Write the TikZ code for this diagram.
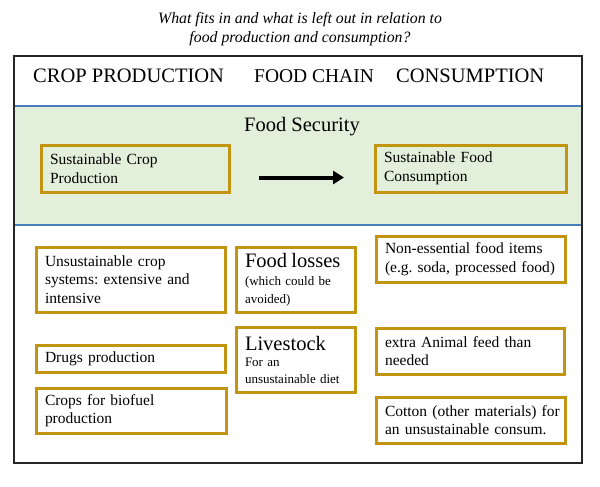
\documentclass[tikz,border=0pt]{standalone}
\usepackage{fontspec}
\setmainfont{Liberation Serif}
\usetikzlibrary{arrows.meta}
\definecolor{gold}{RGB}{194,148,16}
\definecolor{bandgreen}{RGB}{226,239,218}
\definecolor{lineblue}{RGB}{74,126,187}
\newcommand\oneline[1]{\mbox{#1}}
\begin{document}
\frenchspacing
\begin{tikzpicture}[x=1pt,y=-1pt,
  gbox/.style={draw=gold, line width=3pt, anchor=north west, align=left,
    inner xsep=9pt, inner ysep=0pt, font=\fontsize{15.5}{18.5}\selectfont},
  hdr/.style={font=\fontsize{20.5}{24}\selectfont, anchor=base west, inner sep=0pt},
  big/.style={font=\fontsize{20.5}{23}\selectfont}]
\useasboundingbox (0,0) rectangle (600,487);
\fill[white] (0,0) rectangle (600,487);
\node[font=\itshape\fontsize{15.8}{19}\selectfont, align=center] (title) at (300,29)
  {What fits in and what is left out in relation to\\food production and consumption?};
\fill[bandgreen] (14,106) rectangle (582,225);
\draw[lineblue, line width=1.3pt] (14,106) -- (582,106);
\draw[lineblue, line width=1.3pt] (14,225) -- (582,225);
\draw[line width=1.3pt, black!85] (14,56) rectangle (582,463);
\node[hdr] (h1) at (33,82) {CROP PRODUCTION};
\node[hdr, font=\fontsize{19.5}{24}\selectfont] (h2) at (254,82) {FOOD CHAIN};
\node[hdr] (h3) at (396,82) {CONSUMPTION};
\node[big] (fs) at (302,127) {Food Security};
\node[gbox, text width=170pt, minimum height=47pt] (sc) at (39.5,143.5) {Sustainable Crop\\Production};
\node[gbox, text width=173pt, minimum height=47pt] (sf) at (373.5,143.5) {Sustainable Food\\Consumption};
\draw[line width=4pt, -{Triangle[length=11pt,width=13pt]}, shorten <=28.5pt, shorten >=29.5pt]
  ([yshift=-9pt]sc.east) -- ([yshift=-9pt]sf.west);
\node[gbox, text width=171pt, minimum height=65pt] (uc) at (34.5,245.5) {Unsustainable crop\\systems: extensive and\\intensive};
\node[gbox, text width=101pt, minimum height=65pt, font=\fontsize{13}{17.5}\selectfont] (fl) at (234.5,245.5)
  {{\fontsize{20.5}{23}\selectfont Food losses}\\[1pt](which could be\\avoided)};
\node[gbox, text width=171pt, minimum height=46pt] (ne) at (374.5,234.5) {\oneline{Non-essential food items}\\\oneline{(e.g. soda, processed food)}};
\node[gbox, text width=171pt, minimum height=27pt] (dp) at (34.5,343.5) {Drugs production};
\node[gbox, text width=101pt, minimum height=65pt, font=\fontsize{13}{16.5}\selectfont] (ls) at (234.5,325.5)
  {{\fontsize{20.5}{23}\selectfont Livestock}\\For an\\unsustainable diet};
\node[gbox, text width=170pt, minimum height=46pt] (ea) at (374.5,326.5) {extra Animal feed than\\needed};
\node[gbox, text width=172pt, minimum height=45pt] (bf) at (34.5,386.5) {Crops for biofuel\\production};
\node[gbox, text width=171pt, minimum height=46pt] (ct) at (374.5,395.5) {\oneline{Cotton (other materials) for}\\\oneline{an unsustainable consum.}};
\end{tikzpicture}
\end{document}
